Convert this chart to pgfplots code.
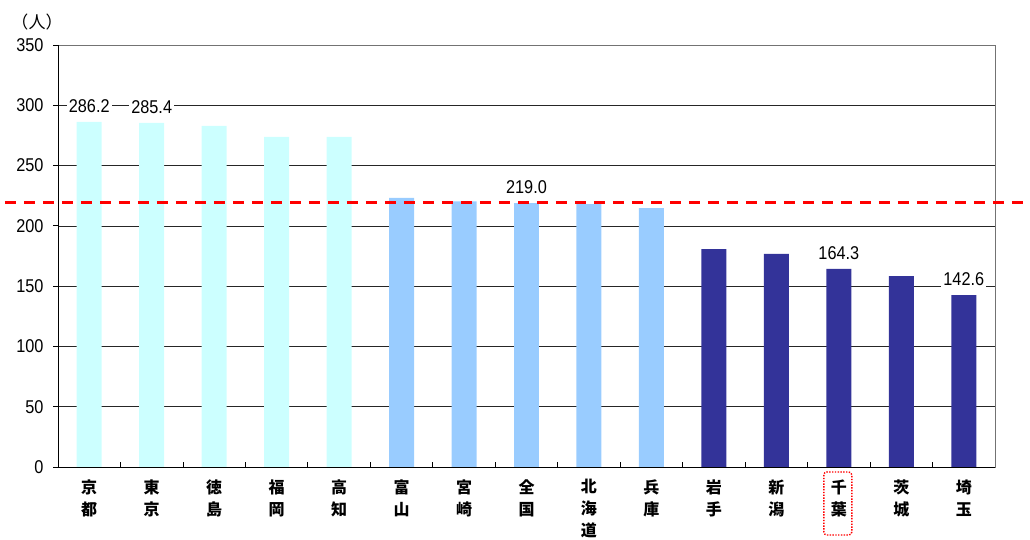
\documentclass[border=0pt]{standalone}
\usepackage{pgfplots}
\pgfplotsset{compat=1.18}
\usepackage{fontspec}
\setmainfont[FakeStretch=0.88]{Liberation Sans}
\newfontfamily\cjk{Noto Sans CJK JP}
\definecolor{barcyan}{HTML}{CCFFFF}
\definecolor{barblue}{HTML}{99CCFF}
\definecolor{barnavy}{HTML}{333399}

\begin{document}
\begin{tikzpicture}[x=1pt,y=1pt]
\useasboundingbox (0,0) rectangle (1030,540);
\node[font=\cjk\fontsize{17}{17}\selectfont] at (37,518) {（人）};
\begin{axis}[
  at={(58pt,73pt)}, anchor=south west,
  scale only axis, width=937pt, height=422pt,
  xmin=-0.5, xmax=14.5, ymin=0, ymax=350,
  clip=false,
  ybar, bar width=25pt, bar shift=0pt,
  ytick={0,50,...,350},
  ymajorgrids,
  grid style={black!85, line width=0.7pt},
  axis line style={black!55, line width=0.8pt},
  tick style={black, line width=0.8pt},
  major tick length=5pt,
  ytick align=outside,
  xtick align=inside,
  xtick pos=bottom, ytick pos=left,
  xtick={0.5,1.5,...,13.5},
  xticklabels={},
  extra x ticks={0,1,...,14},
  extra x tick labels={{京\\都},{東\\京},{徳\\島},{福\\岡},{高\\知},{富\\山},{宮\\崎},{全\\国},{北\\海\\道},{兵\\庫},{岩\\手},{新\\潟},{千\\葉},{茨\\城},{埼\\玉}},
  extra x tick style={major tick length=0pt, grid=none},
  xticklabel style={font=\cjk\bfseries\fontsize{16}{22}\selectfont, align=center, anchor=north, yshift=-9pt},
  yticklabel style={font=\fontsize{18.5}{18.5}\selectfont, xshift=-6pt},
  /pgf/number format/assume math mode=true,
  every node near coord/.append style={font=\fontsize{18.5}{18.5}\selectfont, anchor=south, yshift=7pt, fill=white, text=black, inner sep=2pt},
]
% prefectures above the national figure
\addplot[fill=barcyan, draw=none, nodes near coords,
  nodes near coords={\pgfmathprintnumber[fixed,fixed zerofill,precision=1]{\pgfplotspointmeta}}]
  coordinates {(0,286.2) (1,285.4)};
\addplot[fill=barcyan, draw=none] coordinates {(2,283.0) (3,273.7) (4,273.8)};
% around the national figure
\addplot[fill=barblue, draw=none] coordinates {(5,223.2) (6,220.4) (8,218.1) (9,214.8)};
\addplot[fill=barblue, draw=none, nodes near coords,
  nodes near coords={\pgfmathprintnumber[fixed,fixed zerofill,precision=1]{\pgfplotspointmeta}}]
  coordinates {(7,219.0)};
% lowest group
\addplot[fill=barnavy, draw=none] coordinates {(10,180.8) (11,176.7) (13,158.4)};
\addplot[fill=barnavy, draw=none, nodes near coords,
  nodes near coords={\pgfmathprintnumber[fixed,fixed zerofill,precision=1]{\pgfplotspointmeta}}]
  coordinates {(12,164.3) (14,142.6)};
% national average line
\addplot[sharp plot, red, line width=3pt, dash pattern=on 11pt off 8pt]
  coordinates {(-1.35,219.0) (15.06,219.0)};
\draw[black, line width=0.9pt] (rel axis cs:0,1) -- (rel axis cs:0,0) -- (rel axis cs:1,0);
\draw[red, line width=1.4pt, dash pattern=on 1.4pt off 1.4pt, rounded corners=3pt]
  ([xshift=-15pt,yshift=-5pt]axis cs:12,0) rectangle ([xshift=13pt,yshift=-68pt]axis cs:12,0);
\end{axis}
\end{tikzpicture}
\end{document}
